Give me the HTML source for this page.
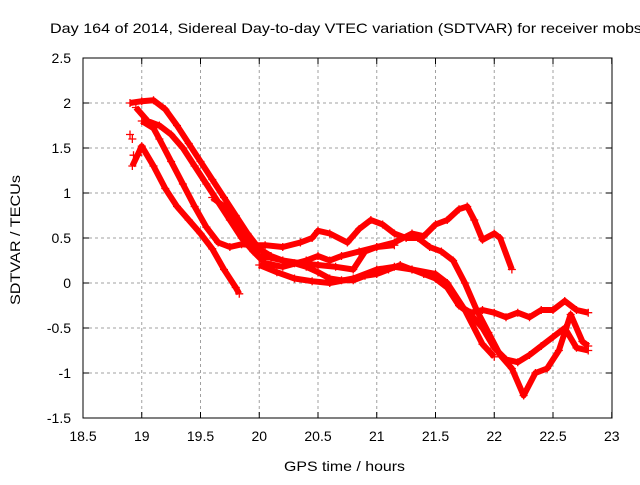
<!DOCTYPE html>
<html><head><meta charset="utf-8"><style>
body{margin:0;background:#fff;font-family:"Liberation Sans",sans-serif}
svg text{font-family:"Liberation Sans",sans-serif;font-size:14px;fill:#000}
</style></head><body>
<svg id="c" width="640" height="480" xmlns="http://www.w3.org/2000/svg">
<text x="50" y="33" textLength="592" lengthAdjust="spacingAndGlyphs">Day 164 of 2014, Sidereal Day-to-day VTEC variation (SDTVAR) for receiver mobs</text>
<g id="grid"></g><g id="series"></g>
<rect x="83" y="58" width="529" height="360" fill="none" stroke="#000"/>
<text x="284" y="471" textLength="121" lengthAdjust="spacingAndGlyphs">GPS time / hours</text>
<text transform="translate(20,305) rotate(-90)" textLength="130" lengthAdjust="spacingAndGlyphs">SDTVAR / TECUs</text>
</svg>
<script>
const xTicks=[18.5,19,19.5,20,20.5,21,21.5,22,22.5,23];
const yTicks=[2.5,2,1.5,1,0.5,0,-0.5,-1,-1.5];
const trackA=[[18.9,2.0],[19.0,2.02],[19.1,2.03],[19.2,1.93],[19.3,1.75],[19.4,1.55],[19.5,1.35],[19.6,1.15],[19.7,0.95],[19.8,0.75],[19.9,0.55],[20.0,0.38],[20.1,0.3],[20.2,0.25],[20.3,0.22],[20.4,0.18],[20.5,0.12],[20.6,0.05],[20.7,0.03],[20.8,0.03],[20.9,0.08],[21.0,0.1],[21.1,0.15],[21.2,0.2],[21.3,0.15],[21.4,0.1],[21.5,0.05],[21.6,-0.05],[21.7,-0.25],[21.8,-0.35],[21.9,-0.5],[22.0,-0.72],[22.1,-0.85],[22.2,-0.88],[22.3,-0.8],[22.4,-0.7],[22.5,-0.6],[22.6,-0.5],[22.7,-0.72],[22.8,-0.75]];
const trackB=[[18.95,1.95],[19.05,1.8],[19.15,1.75],[19.25,1.65],[19.35,1.5],[19.45,1.3],[19.55,1.1],[19.65,0.9],[19.75,0.7],[19.85,0.5],[19.95,0.35],[20.05,0.22],[20.2,0.18],[20.4,0.25],[20.5,0.3],[20.6,0.25],[20.7,0.3],[20.85,0.35],[21.0,0.4],[21.15,0.42]];
const trackC=[[19.0,1.8],[19.1,1.72],[19.15,1.6],[19.25,1.35],[19.35,1.1],[19.45,0.85],[19.55,0.62],[19.65,0.45],[19.75,0.4],[19.85,0.43],[19.95,0.42],[20.05,0.42],[20.2,0.4],[20.35,0.45],[20.45,0.5],[20.5,0.58],[20.6,0.55],[20.75,0.45],[20.85,0.6],[20.95,0.7],[21.05,0.65],[21.15,0.55],[21.25,0.5],[21.35,0.5],[21.45,0.4],[21.55,0.35],[21.65,0.25],[21.75,0.0],[21.85,-0.3],[21.95,-0.55],[22.05,-0.8],[22.15,-0.95],[22.25,-1.25],[22.35,-1.0],[22.45,-0.95],[22.55,-0.75],[22.65,-0.35],[22.75,-0.65],[22.8,-0.7]];
const trackD=[[18.92,1.3],[19.0,1.52],[19.1,1.3],[19.2,1.05],[19.3,0.85],[19.4,0.7],[19.5,0.55],[19.6,0.38],[19.7,0.15],[19.8,-0.05],[19.83,-0.12]];
const trackE=[[19.6,0.95],[19.7,0.85],[19.8,0.65],[19.9,0.45],[20.0,0.3],[20.1,0.28],[20.2,0.25],[20.35,0.22],[20.5,0.2],[20.65,0.18],[20.8,0.15],[20.9,0.35],[21.0,0.4],[21.15,0.45],[21.3,0.55],[21.4,0.52],[21.5,0.65],[21.6,0.7],[21.7,0.82],[21.77,0.85],[21.83,0.7],[21.9,0.48],[22.0,0.55],[22.05,0.5],[22.15,0.15]];
const trackF=[[21.5,0.05],[21.6,-0.05],[21.7,-0.25],[21.8,-0.33],[21.9,-0.3],[22.0,-0.33],[22.1,-0.38],[22.2,-0.33],[22.3,-0.38],[22.4,-0.3],[22.5,-0.3],[22.6,-0.2],[22.7,-0.3],[22.8,-0.33]];
const trackG=[[20.0,0.2],[20.15,0.12],[20.3,0.05],[20.45,0.02],[20.6,0.0],[20.8,0.05],[21.0,0.15],[21.15,0.18],[21.3,0.15],[21.5,0.1],[21.6,0.0],[21.75,-0.3],[21.9,-0.68],[22.0,-0.82]];
const trackH=[[18.9,1.65],[18.92,1.6],[18.93,1.42],[18.97,1.42]];
const X=h=>83+(h-18.5)*117.5, Y=v=>283-v*90;
const ns="http://www.w3.org/2000/svg";
const grid=document.getElementById('grid'), ser=document.getElementById('series'), svg=document.getElementById('c');
xTicks.forEach(t=>{
 const x=X(t);
 if(t>18.5&&t<23){const l=document.createElementNS(ns,'line');l.setAttribute('x1',x);l.setAttribute('x2',x);l.setAttribute('y1',58);l.setAttribute('y2',418);l.setAttribute('stroke','#a0a0a0');l.setAttribute('stroke-dasharray','3,3');
 
 grid.appendChild(l);}
 const tk=document.createElementNS(ns,'path');tk.setAttribute('d',`M${x},418v-6M${x},58v6`);tk.setAttribute('stroke','#000');
 
 grid.appendChild(tk);
 const tx=document.createElementNS(ns,'text');tx.setAttribute('x',x);tx.setAttribute('y',441);tx.setAttribute('text-anchor','middle');tx.textContent=t;
 
 svg.appendChild(tx);
});
yTicks.forEach(t=>{
 const y=Y(t);
 if(t<2.5&&t>-1.5){const l=document.createElementNS(ns,'line');l.setAttribute('x1',83);l.setAttribute('x2',612);l.setAttribute('y1',y);l.setAttribute('y2',y);l.setAttribute('stroke','#a0a0a0');l.setAttribute('stroke-dasharray','3,3');
 
 grid.appendChild(l);}
 const tk=document.createElementNS(ns,'path');tk.setAttribute('d',`M83,${y}h6M612,${y}h-6`);tk.setAttribute('stroke','#000');
 
 grid.appendChild(tk);
 const tx=document.createElementNS(ns,'text');tx.setAttribute('x',71);tx.setAttribute('y',y+5);tx.setAttribute('text-anchor','end');tx.textContent=t;
 
 svg.appendChild(tx);
});
const tracks=[trackA,trackB,trackC,trackD,trackE,trackF,trackG];
tracks.forEach((tr,i)=>{
 const p=document.createElementNS(ns,'polyline');
 p.setAttribute('points',tr.map(d=>X(d[0])+','+Y(d[1])).join(' '));
 p.setAttribute('fill','none');p.setAttribute('stroke','#f00');p.setAttribute('stroke-width','6');p.setAttribute('stroke-linejoin','round');
 
 
 ser.appendChild(p);
});
tracks.concat([trackH]).forEach(tr=>tr.forEach(d=>{
 const m=document.createElementNS(ns,'path');const x=X(d[0]),y=Y(d[1]);
 m.setAttribute('d',`M${x-4},${y}h8M${x},${y-4}v8`);m.setAttribute('stroke','#f00');m.setAttribute('stroke-width','1.3');
 
 
 ser.appendChild(m);
}));
</script>
</body></html>
